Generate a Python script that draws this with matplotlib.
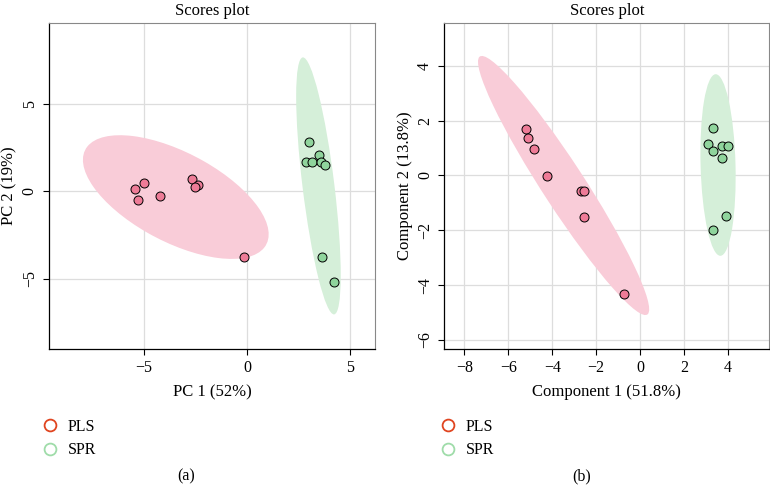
import numpy as np
import matplotlib
matplotlib.use('Agg')
import matplotlib.pyplot as plt
from matplotlib.patches import Ellipse
from matplotlib.lines import Line2D

plt.rcParams['font.family'] = ['Liberation Serif', 'DejaVu Serif']

# (a) PCA scores
pca_pls_x = [-5.42, -5.00, -5.28, -4.21, -2.67, -2.38, -2.51, -0.16]
pca_pls_y = [0.15, 0.47, -0.51, -0.27, 0.68, 0.36, 0.23, -3.77]
pca_spr_x = [3.01, 3.51, 2.85, 3.14, 3.56, 3.80, 3.62, 4.19]
pca_spr_y = [2.80, 2.06, 1.69, 1.69, 1.64, 1.49, -3.77, -5.16]

# (b) PLS-DA scores
pls_pls_x = [-5.18, -5.10, -4.84, -4.22, -2.69, -2.55, -2.55, -0.74]
pls_pls_y = [1.69, 1.35, 0.97, -0.02, -0.55, -0.55, -1.51, -4.32]
pls_spr_x = [3.33, 3.08, 3.72, 4.01, 3.34, 3.72, 3.90, 3.33]
pls_spr_y = [1.72, 1.13, 1.08, 1.07, 0.89, 0.64, -1.49, -2.00]

groups = ['PLS', 'SPR']
point_colors = ['#EE7B97', '#8FD49C']
fill_colors = ['#F9CCD8', '#D5EFD9']
legend_colors = ['#E0441F', '#9FDCA9']


def conf_ellipse(ax, x, y, color, level_scale=2.4477):
    # 95% confidence ellipse from the sample covariance
    x = np.asarray(x); y = np.asarray(y)
    cov = np.cov(x, y)
    vals, vecs = np.linalg.eigh(cov)
    order = vals.argsort()[::-1]
    vals, vecs = vals[order], vecs[:, order]
    angle = np.degrees(np.arctan2(vecs[1, 0], vecs[0, 0]))
    w, h = 2 * level_scale * np.sqrt(vals)
    e = Ellipse((x.mean(), y.mean()), w, h, angle=angle, facecolor=color,
                edgecolor='none', zorder=1)
    ax.add_patch(e)


def scores_panel(ax, data, xlabel, ylabel, xlim, ylim, xticks, yticks):
    for (x, y), fc in zip(data, fill_colors):
        conf_ellipse(ax, x, y, fc)
    for (x, y), pc in zip(data, point_colors):
        ax.scatter(x, y, s=42, facecolor=pc, edgecolor='black', linewidth=0.7, zorder=3)
    ax.set_xlim(xlim)
    ax.set_ylim(ylim)
    ax.set_xticks(xticks)
    ax.set_yticks(yticks)
    ax.set_xticklabels([str(t).replace('-', '\u2212') for t in xticks])
    ax.set_yticklabels([str(t).replace('-', '\u2212') for t in yticks], rotation=90, va='center')
    ax.grid(True, color='#DDDDDD', linewidth=0.9, zorder=0)
    ax.set_axisbelow(True)
    ax.tick_params(labelsize=11.5, length=4, width=0.8, direction='out', pad=4)
    for s in ['top', 'right']:
        ax.spines[s].set_color('#888888')
        ax.spines[s].set_linewidth(0.8)
    for s in ['left', 'bottom']:
        ax.spines[s].set_color('black')
        ax.spines[s].set_linewidth(0.9)
    ax.set_xlabel(xlabel, fontsize=12, labelpad=6)
    ax.set_ylabel(ylabel, fontsize=12, labelpad=3)
    ax.set_title('Scores plot', fontsize=12, pad=6)


fig = plt.figure(figsize=(7.7, 4.9), dpi=100)
ax1 = fig.add_axes([0.0636, 0.2878, 0.4234, 0.6653])
ax2 = fig.add_axes([0.5770, 0.2878, 0.4221, 0.6653])

scores_panel(ax1, [(pca_pls_x, pca_pls_y), (pca_spr_x, pca_spr_y)],
             'PC 1 (52%)', 'PC 2 (19%)', (-9.6, 6.2), (-9.0, 9.6),
             [-5, 0, 5], [-5, 0, 5])
scores_panel(ax2, [(pls_pls_x, pls_pls_y), (pls_spr_x, pls_spr_y)],
             'Component 1 (51.8%)', 'Component 2 (13.8%)', (-8.92, 5.89), (-6.33, 5.56),
             [-8, -6, -4, -2, 0, 2, 4], [-6, -4, -2, 0, 2, 4])

for x0, tag, xc in [(0.044, '(a)', 0.242), (0.561, '(b)', 0.756)]:
    handles = [Line2D([], [], marker='o', linestyle='none', markersize=8.5,
                      markerfacecolor='none', markeredgecolor=c, markeredgewidth=1.3)
               for c in legend_colors]
    fig.legend(handles, groups, loc='upper left', bbox_to_anchor=(x0, 0.158),
               bbox_transform=fig.transFigure, frameon=False, fontsize=11.5,
               handletextpad=0.5, labelspacing=0.45, borderaxespad=0, handlelength=1.2)
    fig.text(xc, 0.028, tag, ha='center', va='center', fontsize=11.5)

fig.savefig('out.png', dpi=100)
